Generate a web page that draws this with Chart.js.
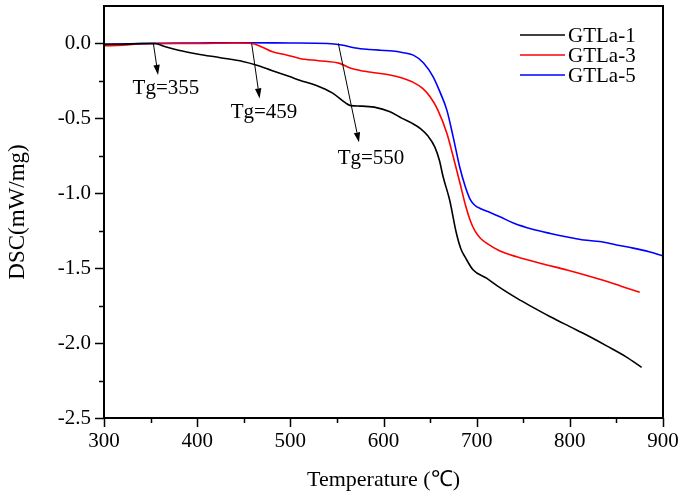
<!DOCTYPE html>
<html>
<head>
<meta charset="utf-8">
<script src="https://cdn.jsdelivr.net/npm/chart.js@4/dist/chart.umd.min.js"></script>
<style>
html,body{margin:0;padding:0;background:#fff;}
#wrap{width:685px;height:498px;}
</style>
</head>
<body>
<div id="wrap"><canvas id="c" width="685" height="498"></canvas></div>
<script>
// ---- data ----
const seriesNames = ['GTLa-1', 'GTLa-3', 'GTLa-5'];
const seriesColors = ['#000000', '#ff0000', '#0000ff'];

const temp1 = [300,320,340,355,365,380,400,425,449,464,480,500,510,528,545,560,565,575,590,607,620,630,640,648,655,660,664,671,678,683,688,696,711,725,743,760,779,800,818,840,860,877];
const dsc1  = [-0.006,-0.005,-0.001,0.0,-0.02,-0.045,-0.07,-0.095,-0.12,-0.145,-0.18,-0.223,-0.245,-0.28,-0.33,-0.40,-0.415,-0.418,-0.425,-0.456,-0.50,-0.53,-0.57,-0.62,-0.69,-0.78,-0.89,-1.045,-1.26,-1.37,-1.43,-1.51,-1.568,-1.63,-1.70,-1.76,-1.824,-1.89,-1.946,-2.02,-2.09,-2.162];

const temp3 = [300,320,340,355,400,440,459,470,481,495,510,530,553,565,575,590,607,620,632,642,650,658,668,675,682,688,693,698,704,711,725,743,770,797,832,855,875];
const dsc3  = [-0.015,-0.012,-0.002,0.0,0.0,0.003,0.0,-0.025,-0.056,-0.075,-0.1,-0.115,-0.133,-0.165,-0.18,-0.195,-0.21,-0.23,-0.26,-0.30,-0.356,-0.44,-0.6,-0.76,-0.93,-1.08,-1.18,-1.25,-1.30,-1.334,-1.385,-1.424,-1.47,-1.512,-1.574,-1.62,-1.66];

const temp5 = [300,340,400,450,500,540,555,570,585,596,610,620,632,643,653,661,668,675,682,688,693,698,705,715,725,740,760,779,800,815,832,850,868,885,900];
const dsc5  = [-0.005,0.0,0.003,0.005,0.003,0.0,-0.01,-0.03,-0.04,-0.045,-0.05,-0.06,-0.078,-0.13,-0.22,-0.33,-0.445,-0.63,-0.83,-0.96,-1.04,-1.08,-1.105,-1.13,-1.157,-1.2,-1.24,-1.268,-1.295,-1.312,-1.322,-1.345,-1.366,-1.39,-1.418];

const xTickValues = [300,400,500,600,700,800,900];
const xMinorTicks = [350,450,550,650,750,850];
const yTickValues = [-2.5,-2.0,-1.5,-1.0,-0.5,0.0];
const yMinorTicks = [-2.25,-1.75,-1.25,-0.75,-0.25];

// Tg annotations (data coordinates)
const tgLabels = ['Tg=355','Tg=459','Tg=550'];
const tgArrowFromT = [353, 458.5, 551.5];
const tgArrowFromV = [0.0, 0.0, 0.0];
const tgArrowToT   = [358, 467, 573.7];
const tgArrowToV   = [-0.21, -0.367, -0.66];
const tgTextT = [366.5, 471.7, 586.6];
const tgTextV = [-0.298, -0.46, -0.766];

// ---- build ----
const FONT = '"Liberation Serif", "Times New Roman", serif';
function pts(xs, ys){ return xs.map((x,i)=>({x:x, y:ys[i]})); }
const allT = [temp1, temp3, temp5];
const allV = [dsc1, dsc3, dsc5];

const datasets = seriesNames.map((n,i)=>({
  label: n,
  data: pts(allT[i], allV[i]),
  borderColor: seriesColors[i],
  backgroundColor: seriesColors[i],
  borderWidth: 1.6,
  pointRadius: 0,
  fill: false,
  cubicInterpolationMode: 'monotone'
}));

const decor = {
  id: 'decor',
  afterDatasetsDraw(chart){
    const ctx = chart.ctx, a = chart.chartArea;
    const xs = chart.scales.x, ys = chart.scales.y;
    ctx.save();
    // frame
    ctx.strokeStyle = '#000';
    ctx.lineWidth = 2;
    ctx.strokeRect(a.left, a.top, a.right - a.left, a.bottom - a.top);
    // ticks
    ctx.lineWidth = 1.5;
    ctx.beginPath();
    xTickValues.forEach(v=>{ const p = Math.round(xs.getPixelForValue(v))+0.5; ctx.moveTo(p, a.bottom); ctx.lineTo(p, a.bottom+9); });
    xMinorTicks.forEach(v=>{ const p = Math.round(xs.getPixelForValue(v))+0.5; ctx.moveTo(p, a.bottom); ctx.lineTo(p, a.bottom+5); });
    yTickValues.forEach(v=>{ const p = Math.round(ys.getPixelForValue(v))+0.5; ctx.moveTo(a.left, p); ctx.lineTo(a.left-9, p); });
    yMinorTicks.forEach(v=>{ const p = Math.round(ys.getPixelForValue(v))+0.5; ctx.moveTo(a.left, p); ctx.lineTo(a.left-5, p); });
    ctx.stroke();
    // arrows
    ctx.lineWidth = 1;
    ctx.fillStyle = '#000';
    for (let i=0;i<tgLabels.length;i++){
      const x0 = xs.getPixelForValue(tgArrowFromT[i]), y0 = ys.getPixelForValue(tgArrowFromV[i]);
      const x1 = xs.getPixelForValue(tgArrowToT[i]), y1 = ys.getPixelForValue(tgArrowToV[i]);
      const ang = Math.atan2(y1-y0, x1-x0);
      const hl = 10, hw = 3.2;
      const bx = x1 - hl*Math.cos(ang), by = y1 - hl*Math.sin(ang);
      ctx.beginPath(); ctx.moveTo(x0,y0); ctx.lineTo(bx,by); ctx.stroke();
      ctx.beginPath();
      ctx.moveTo(x1,y1);
      ctx.lineTo(bx + hw*Math.sin(ang), by - hw*Math.cos(ang));
      ctx.lineTo(bx - hw*Math.sin(ang), by + hw*Math.cos(ang));
      ctx.closePath(); ctx.fill();
      ctx.font = '21px ' + FONT;
      ctx.textAlign = 'center'; ctx.textBaseline = 'middle';
      ctx.fillText(tgLabels[i], xs.getPixelForValue(tgTextT[i]), ys.getPixelForValue(tgTextV[i]));
    }
    // legend
    const lx0 = a.right - 143, lx1 = a.right - 98, tx = a.right - 95;
    ctx.font = '21px ' + FONT;
    ctx.textAlign = 'left'; ctx.textBaseline = 'middle';
    chart.data.datasets.forEach((d,i)=>{
      const y = a.top + 29 + i*20;
      ctx.strokeStyle = d.borderColor; ctx.lineWidth = 1.6;
      ctx.beginPath(); ctx.moveTo(lx0, y); ctx.lineTo(lx1, y); ctx.stroke();
      ctx.fillStyle = '#000';
      ctx.fillText(d.label, tx, y+1);
    });
    ctx.restore();
  }
};

new Chart(document.getElementById('c'), {
  type: 'line',
  data: { datasets },
  options: {
    responsive: false,
    animation: false,
    layout: { padding: { left: 0, right: 22, top: 6, bottom: 0 } },
    plugins: { legend: { display: false }, tooltip: { enabled: false } },
    scales: {
      x: {
        type: 'linear', min: 300, max: 900,
        afterBuildTicks: s => { s.ticks = xTickValues.map(v=>({value:v})); },
        afterFit: s => { s.height = 80; s.paddingLeft = 0; s.paddingRight = 0; },
        grid: { display: false, drawTicks: false },
        border: { display: false },
        ticks: { color: '#000', font: { family: FONT, size: 21 }, padding: 11, maxRotation: 0, callback: v => String(v) },
        title: { display: true, text: 'Temperature (\u2103)', color: '#000', font: { family: FONT, size: 22 }, padding: { top: 0, bottom: 5 } }
      },
      y: {
        type: 'linear', min: -2.5, max: 0.25,
        afterBuildTicks: s => { s.ticks = yTickValues.map(v=>({value:v})); },
        afterFit: s => { s.width = 104; s.paddingTop = 0; s.paddingBottom = 0; },
        grid: { display: false, drawTicks: false },
        border: { display: false },
        ticks: { color: '#000', font: { family: FONT, size: 21 }, padding: 13, callback: v => Number(v).toFixed(1) },
        title: { display: true, text: 'DSC(mW/mg)', color: '#000', font: { family: FONT, size: 23 }, padding: { top: 4, bottom: 0 } }
      }
    }
  },
  plugins: [decor]
});
</script>
</body>
</html>
